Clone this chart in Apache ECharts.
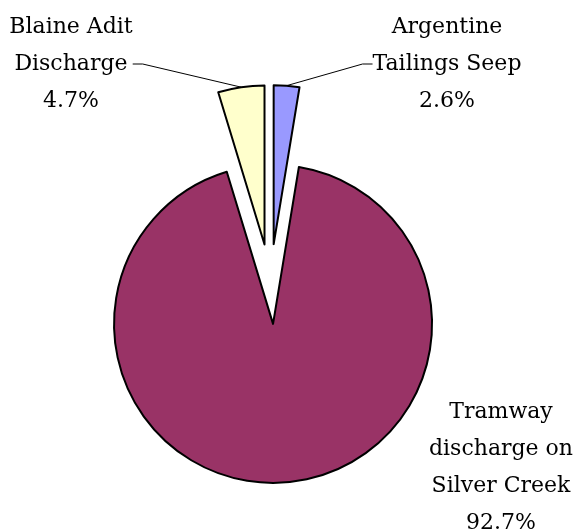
<!DOCTYPE html>
<html>
<head>
<meta charset="utf-8">
<script src="https://cdn.jsdelivr.net/npm/echarts@6/dist/echarts.min.js"></script>
<style>
  html, body { margin: 0; padding: 0; background: #fff; }
  #chart { width: 577px; height: 531px; }
</style>
</head>
<body>
<div id="chart"></div>
<script>
// slices, clockwise from 12 o'clock
var names = ['Argentine\nTailings Seep', 'Tramway\ndischarge on\nSilver Creek', 'Blaine Adit\nDischarge']
var values = [2.6, 92.7, 4.7]
var colors = ['#9999ff', '#993366', '#ffffcc']

// centre of each label block
var labelPos = [
  { x: 447, y: 64 },
  { x: 501, y: 468 },
  { x: 71, y: 64 }
]

var baseCenter = [270.4, 284]
var explode = 40

var chart = echarts.init(document.getElementById('chart'))

var total = values.reduce(function (a, b) { return a + b }, 0)

// one series per slice so every slice can be pulled out along its own mid angle
var series = []
var acc = 0
values.forEach(function (v, k) {
  var mid = (acc + v / 2) / total * 2 * Math.PI
  acc += v
  var cx = baseCenter[0] + explode * Math.sin(mid)
  var cy = baseCenter[1] - explode * Math.cos(mid)
  series.push({
    type: 'pie',
    center: [cx, cy],
    radius: 159,
    startAngle: 90,
    clockwise: true,
    avoidLabelOverlap: false,
    silent: true,
    emphasis: { disabled: true },
    label: {
      show: true,
      position: 'outside',
      color: '#000',
      fontFamily: 'DejaVu Serif',
      fontSize: 22,
      lineHeight: 37,
      align: 'center',
      formatter: function (p) {
        return p.name + '\n' + p.value.toFixed(1) + '%'
      }
    },
    labelLine: {
      show: k !== 1,
      length: 10,
      length2: 10,
      lineStyle: { color: '#000', width: 1 }
    },
    labelLayout: function (params) {
      var pos = labelPos[params.dataIndex]
      return { x: pos.x, y: pos.y, align: 'center', verticalAlign: 'middle' }
    },
    data: names.map(function (n, i) {
      var own = i === k
      return {
        name: n,
        value: values[i],
        itemStyle: own
          ? { color: colors[i], borderColor: '#000', borderWidth: 2 }
          : { color: 'rgba(0,0,0,0)', borderWidth: 0 },
        label: { show: own },
        labelLine: { show: own && k !== 1 }
      }
    })
  })
})

chart.setOption({ animation: false, series: series })
</script>
</body>
</html>
